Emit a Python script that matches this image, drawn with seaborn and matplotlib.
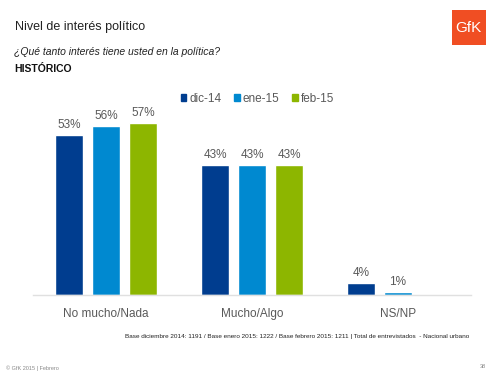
import matplotlib
matplotlib.use("Agg")
import matplotlib.pyplot as plt
import seaborn as sns
import pandas as pd
from matplotlib.patches import Rectangle, Patch

categories = ["No mucho/Nada", "Mucho/Algo", "NS/NP"]
series = ["dic-14", "ene-15", "feb-15"]
dic14 = [53, 43, 4]
ene15 = [56, 43, 1]
feb15 = [57, 43, 0]
colors = ["#003D8F", "#0089D0", "#8DB600"]

rows = []
for s, vals in zip(series, [dic14, ene15, feb15]):
    for c, v in zip(categories, vals):
        rows.append({"cat": c, "serie": s, "val": v})
df = pd.DataFrame(rows)

sns.set_style("white")
plt.rcParams['font.family'] = ['Liberation Sans', 'DejaVu Sans']

fig = plt.figure(figsize=(5, 3.77), dpi=100)
ax = fig.add_axes([0.066, 0.2175, 0.876, 0.480])
sns.barplot(data=df, x="cat", y="val", hue="serie", palette=colors,
            order=categories, hue_order=series, width=0.76, gap=0.22,
            saturation=1, ax=ax, legend=False)
ax.set_ylim(0, 60)
ax.set_xlim(-0.5, 2.5)
for cont, vals in zip(ax.containers, [dic14, ene15, feb15]):
    labels = [f"{v}%" if v > 0 else "" for v in vals]
    ax.bar_label(cont, labels=labels, padding=3, fontsize=8.5, color="#595959")
ax.set_xlabel("")
ax.set_ylabel("")
ax.set_yticks([])
ax.tick_params(axis="x", length=0, pad=9, labelsize=8.5, labelcolor="#595959")
for s in ["top", "right", "left"]:
    ax.spines[s].set_visible(False)
ax.spines["bottom"].set_color("#E0E0E0")
ax.spines["bottom"].set_linewidth(1)

# legend
handles = [Patch(color=c, label=s) for c, s in zip(colors, series)]
fig.legend(handles=handles, loc="center", bbox_to_anchor=(0.515, 0.738), ncol=3,
           frameon=False, fontsize=8.5, handlelength=0.45, handleheight=0.45,
           handletextpad=0.25, columnspacing=1.1, labelcolor="#595959")

# titles
fig.text(0.03, 0.928, "Nivel de interés político", fontsize=9, color="#222222", va="center")
fig.text(0.028, 0.862, "¿Qué tanto interés tiene usted en la política?", fontsize=7.5,
         style="italic", color="#222222", va="center")
fig.text(0.028, 0.818, "HISTÓRICO", fontsize=7.5, weight="bold", color="#111111", va="center")

# logo
fig.patches.append(Rectangle((0.903, 0.880), 0.068, 0.094, transform=fig.transFigure,
                             facecolor="#F04E23", edgecolor="none"))
fig.text(0.937, 0.926, "GfK", fontsize=11, color="white", ha="center", va="center")

# footer
fig.text(0.938, 0.108, "Base diciembre 2014: 1191 / Base enero 2015: 1222 / Base febrero 2015: 1211 | Total de entrevistados  - Nacional urbano",
         fontsize=4.6, color="#222222", ha="right", va="center")
fig.text(0.012, 0.024, "© GfK 2015 | Febrero", fontsize=4, color="#888888", va="center")
fig.text(0.972, 0.027, "38", fontsize=4, color="#888888", va="center", ha="right")

fig.savefig("out.png", dpi=100, facecolor="white")
